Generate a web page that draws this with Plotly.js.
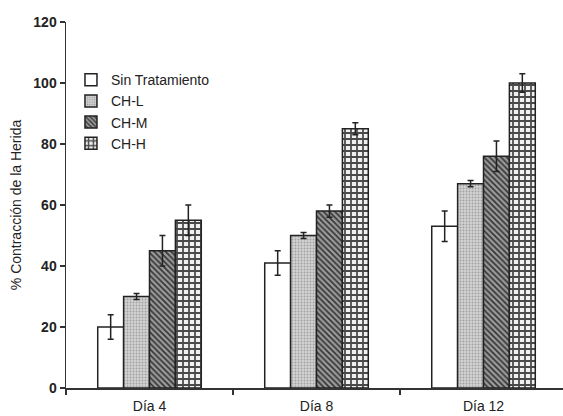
<!DOCTYPE html>
<html><head><meta charset="utf-8">
<script src="https://cdn.plot.ly/plotly-3.0.1.min.js"></script>
<style>html,body{margin:0;padding:0;background:#fff}#chart{width:563px;height:416px}</style>
</head><body><div id="chart"></div>
<script>
const categories = ["Día 4", "Día 8", "Día 12"];
const seriesNames = ["Sin Tratamiento", "CH-L", "CH-M", "CH-H"];
const sinTratamiento = [20, 41, 53];
const sinTratamientoErr = [4, 4, 5];
const chL = [30, 50, 67];
const chLErr = [1, 1, 1];
const chM = [45, 58, 76];
const chMErr = [5, 2, 5];
const chH = [55, 85, 100];
const chHErr = [5, 2, 3];
const yTicks = [0, 20, 40, 60, 80, 100, 120];

const values = [sinTratamiento, chL, chM, chH];
const errs = [sinTratamientoErr, chLErr, chMErr, chHErr];
const styles = [
  {color: "#ffffff", pattern: {shape: ""}},
  {color: "#c9c9c9", pattern: {shape: ".", fgcolor: "#a0a0a0", bgcolor: "#d2d2d2", size: 3, solidity: 0.3}},
  {color: "#8a8a8a", pattern: {shape: "\\", fgcolor: "#333333", bgcolor: "#9a9a9a", size: 4, solidity: 0.4}},
  {color: "#777777", pattern: {shape: "+", fgcolor: "#4a4a4a", bgcolor: "#f0f0f0", size: 6, solidity: 0.5}}
];

const traces = seriesNames.map((n, i) => ({
  type: "bar",
  name: n,
  x: categories,
  y: values[i],
  error_y: {type: "data", array: errs[i], visible: true, color: "#222", thickness: 1.5, width: 3},
  marker: {color: styles[i].color, pattern: styles[i].pattern, line: {color: "#222", width: 1.5}},
  hoverinfo: "skip"
}));

const layout = {
  width: 563, height: 416,
  margin: {l: 66, r: 0, t: 22, b: 28, pad: 0},
  paper_bgcolor: "#fff", plot_bgcolor: "#fff",
  barmode: "group", bargap: 0.38, bargroupgap: 0,
  font: {family: "Liberation Sans, Arial, sans-serif", color: "#222"},
  showlegend: true,
  legend: {x: 0.01, y: 0.885, xanchor: "left", yanchor: "top", bgcolor: "rgba(0,0,0,0)",
           font: {size: 14, color: "#222"}, itemwidth: 30, tracegroupgap: 0},
  xaxis: {
    type: "category", range: [-0.5, 2.476],
    showline: true, linecolor: "#333", linewidth: 1.5,
    ticks: "outside", tickson: "boundaries", ticklen: 5, tickcolor: "#333", tickwidth: 1.5,
    showgrid: false, zeroline: false, ticklabelstandoff: 5,
    tickfont: {size: 14, color: "#222"}
  },
  yaxis: {
    range: [0, 120], tickvals: yTicks,
    showline: true, linecolor: "#333", linewidth: 1.5,
    ticks: "outside", ticklen: 5, tickcolor: "#333", tickwidth: 1.5,
    showgrid: false, zeroline: false,
    tickfont: {size: 14, color: "#222", weight: "bold"},
    title: {text: "% Contracción de la Herida", font: {size: 14, color: "#222"}, standoff: 8}
  }
};
Plotly.newPlot("chart", traces, layout, {staticPlot: true});
</script></body></html>
